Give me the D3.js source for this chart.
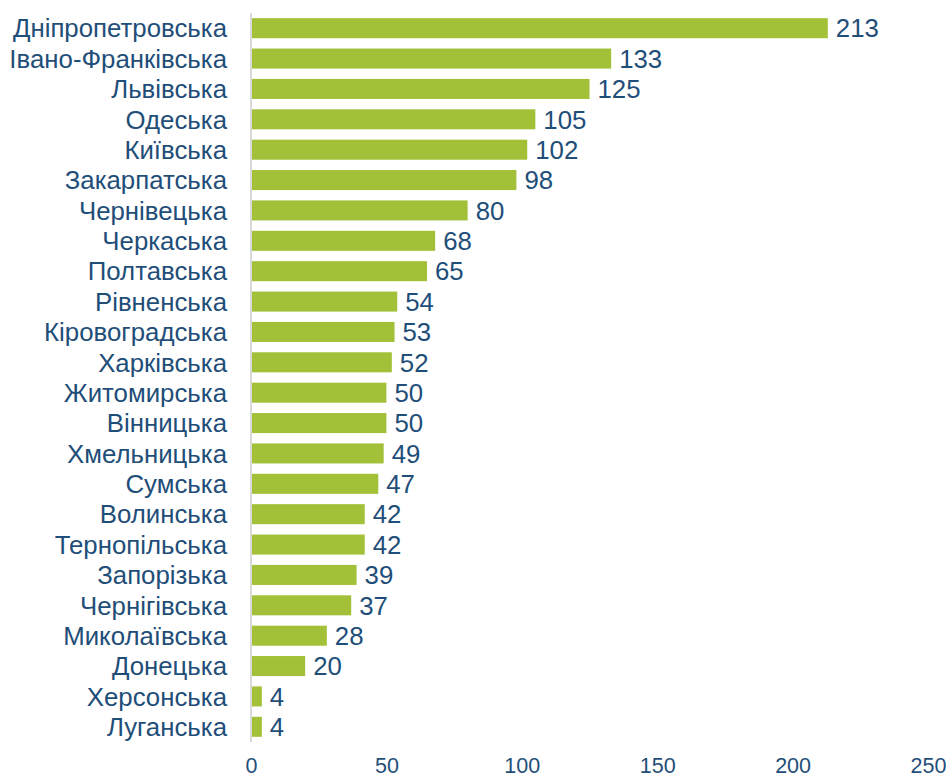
<!DOCTYPE html>
<html>
<head>
<meta charset="utf-8">
<script src="https://cdn.jsdelivr.net/npm/d3@7"></script>
<style>
  html, body { margin: 0; padding: 0; background: #ffffff; }
  svg { display: block; }
  text { font-family: "Liberation Sans", Arial, sans-serif; }
</style>
</head>
<body>
<svg id="chart" width="950" height="778"></svg>
<script>
// Regions and their counts
const regions = [
  "Дніпропетровська", "Івано-Франківська", "Львівська", "Одеська", "Київська",
  "Закарпатська", "Чернівецька", "Черкаська", "Полтавська", "Рівненська",
  "Кіровоградська", "Харківська", "Житомирська", "Вінницька", "Хмельницька",
  "Сумська", "Волинська", "Тернопільська", "Запорізька", "Чернігівська",
  "Миколаївська", "Донецька", "Херсонська", "Луганська"
];
const counts = [213, 133, 125, 105, 102, 98, 80, 68, 65, 54, 53, 52, 50, 50, 49, 47, 42, 42, 39, 37, 28, 20, 4, 4];
const xTicks = [0, 50, 100, 150, 200, 250];

(function draw() {
  const svg = d3.select("#chart");
  const plotLeft = 251, plotRight = 928, plotTop = 13, plotBottom = 742;
  const barColor = "#a2c139";
  const textColor = "#1f4e79";
  const labelSize = 25.8;

  const x = d3.scaleLinear().domain([0, 250]).range([plotLeft, plotRight]);
  const y = d3.scaleBand().domain(regions).range([plotTop, plotBottom]).paddingInner(0.34).paddingOuter(0.17);

  const rows = regions.map((r, i) => ({ region: r, value: counts[i] }));

  // bars
  svg.append("g").selectAll("rect").data(rows).join("rect")
    .attr("x", x(0))
    .attr("y", d => y(d.region))
    .attr("width", d => x(d.value) - x(0))
    .attr("height", y.bandwidth())
    .attr("fill", barColor);

  // vertical axis line
  svg.append("line")
    .attr("x1", plotLeft).attr("x2", plotLeft)
    .attr("y1", plotTop).attr("y2", plotBottom)
    .attr("stroke", "#d9d9d9").attr("stroke-width", 2);

  // category labels
  svg.append("g").selectAll("text").data(rows).join("text")
    .attr("x", 227)
    .attr("y", d => y(d.region) + y.bandwidth() / 2)
    .attr("dy", "0.36em")
    .attr("text-anchor", "end")
    .attr("font-size", labelSize)
    .attr("fill", textColor)
    .text(d => d.region);

  // value labels
  svg.append("g").selectAll("text").data(rows).join("text")
    .attr("x", d => x(d.value) + 8)
    .attr("y", d => y(d.region) + y.bandwidth() / 2)
    .attr("dy", "0.36em")
    .attr("font-size", labelSize)
    .attr("fill", textColor)
    .text(d => d.value);

  // x axis tick labels
  const xAxis = d3.axisBottom(x).tickValues(xTicks).tickSize(0).tickPadding(0);
  const gx = svg.append("g").attr("transform", "translate(0,773)").call(xAxis);
  gx.select(".domain").remove();
  gx.selectAll("text")
    .attr("font-size", 21.5)
    .attr("font-family", "Liberation Sans, Arial, sans-serif")
    .attr("fill", textColor)
    .attr("dy", "0");
})();
</script>
</body>
</html>
